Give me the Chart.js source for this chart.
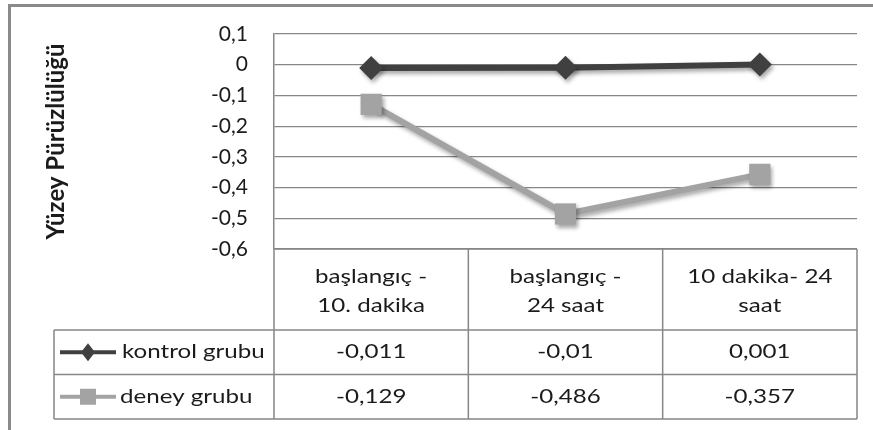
<!DOCTYPE html>
<html>
<head>
<meta charset="utf-8">
<script src="https://cdn.jsdelivr.net/npm/chart.js@4/dist/chart.umd.min.js"></script>
<style>
  html, body { margin: 0; padding: 0; background: #fff; }
  #wrap { width: 873px; height: 430px; }
</style>
</head>
<body>
<div id="wrap"><canvas id="lineChart" width="873" height="430"></canvas></div>
<script>
'use strict'

// Chart data
const categories = [['başlangıç -', '10. dakika'], ['başlangıç -', '24 saat'], ['10 dakika- 24', 'saat']];
const seriesNames = ['kontrol grubu', 'deney grubu'];
const kontrolGrubu = [-0.011, -0.01, 0.001];
const deneyGrubu = [-0.129, -0.486, -0.357];
const yMin = -0.6;
const yMax = 0.1;
const yStep = 0.1;

const darkColor = '#404040';
const greyColor = '#a3a3a3';
const lineGrey = '#878787';
const textColor = '#1b1b1b';
const fontFamily = 'Lato, "Open Sans", sans-serif';

// the original picture is a bit wider than tall, so table text is stretched
const textStretch = 1.27;

function formatNumber(v) {
    return String(v).replace('.', ',');
}

function stretchedText(ctx, text, x, y) {
    ctx.save();
    ctx.translate(x, y);
    ctx.scale(textStretch, 1);
    ctx.fillText(text, 0, 0);
    ctx.restore();
}

// Shadow under the lines and markers (like the original)
const shadowPlugin = {
    id: 'shadowPlugin',
    beforeDatasetsDraw(chart) {
        const ctx = chart.ctx;
        ctx.save();
        ctx.shadowColor = 'rgba(0, 0, 0, 0.35)';
        ctx.shadowBlur = 4;
        ctx.shadowOffsetX = 2;
        ctx.shadowOffsetY = 3;
    },
    afterDatasetsDraw(chart) {
        chart.ctx.restore();
    }
};

// Data table under the plot + outer frame
const dataTablePlugin = {
    id: 'dataTablePlugin',
    afterDraw(chart) {
        const ctx = chart.ctx;
        const x = chart.scales.x;
        const area = chart.chartArea;
        const n = categories.length;
        const colW = (area.right - area.left) / n;
        const legendLeft = 54;
        const headerBottom = 330;
        const rowH = 44.5;
        const tableBottom = headerBottom + rowH * 2;

        ctx.save();
        ctx.strokeStyle = lineGrey;
        ctx.lineWidth = 1.5;

        // vertical lines
        ctx.beginPath();
        for (let i = 0; i <= n; i++) {
            const px = area.left + i * colW;
            ctx.moveTo(px, area.bottom);
            ctx.lineTo(px, tableBottom);
        }
        ctx.moveTo(legendLeft, headerBottom);
        ctx.lineTo(legendLeft, tableBottom);
        // horizontal lines
        ctx.moveTo(area.left, area.bottom);
        ctx.lineTo(area.right, area.bottom);
        for (let r = 0; r <= 2; r++) {
            const py = headerBottom + r * rowH;
            ctx.moveTo(legendLeft, py);
            ctx.lineTo(area.right, py);
        }
        ctx.stroke();

        ctx.fillStyle = textColor;
        ctx.font = '19px ' + fontFamily;
        ctx.textAlign = 'center';
        ctx.textBaseline = 'middle';

        // category labels
        categories.forEach((lines, i) => {
            const cx = x.getPixelForValue(i);
            lines.forEach((line, j) => {
                stretchedText(ctx, line, cx, 277 + j * 29);
            });
        });

        // values
        const allSeries = [kontrolGrubu, deneyGrubu];
        allSeries.forEach((values, r) => {
            const cy = headerBottom + rowH * r + rowH / 2;
            values.forEach((v, i) => {
                stretchedText(ctx, formatNumber(v), x.getPixelForValue(i), cy);
            });
        });

        // legend keys
        ctx.textAlign = 'left';
        allSeries.forEach((values, r) => {
            const cy = headerBottom + rowH * r + rowH / 2;
            const ds = chart.data.datasets[r];
            ctx.strokeStyle = ds.borderColor;
            ctx.lineWidth = 4;
            ctx.beginPath();
            ctx.moveTo(60, cy);
            ctx.lineTo(116, cy);
            ctx.stroke();
            ctx.fillStyle = ds.pointBackgroundColor;
            ctx.beginPath();
            if (r === 0) {
                ctx.moveTo(88, cy - 9);
                ctx.lineTo(95, cy);
                ctx.lineTo(88, cy + 9);
                ctx.lineTo(81, cy);
            } else {
                ctx.rect(80, cy - 8, 16, 16);
            }
            ctx.fill();
            ctx.fillStyle = textColor;
            stretchedText(ctx, seriesNames[r], r === 0 ? 122 : 120, cy);
        });

        // outer frame
        ctx.strokeStyle = '#8a8a8a';
        ctx.lineWidth = 3;
        ctx.strokeRect(9.5, 5.5, 900, 500);
        ctx.restore();
    }
};

document.addEventListener('DOMContentLoaded', function () {
    const ctx = document.getElementById('lineChart').getContext('2d');
    const lineChart = new Chart(ctx, {
        type: 'line',
        data: {
            labels: categories,
            datasets: [
                {
                    label: seriesNames[0],
                    data: kontrolGrubu,
                    borderColor: darkColor,
                    backgroundColor: darkColor,
                    pointBackgroundColor: darkColor,
                    pointBorderColor: darkColor,
                    borderWidth: 6,
                    pointStyle: 'rectRot',
                    pointRadius: 12,
                    pointBorderWidth: 0,
                    tension: 0
                },
                {
                    label: seriesNames[1],
                    data: deneyGrubu,
                    borderColor: greyColor,
                    backgroundColor: greyColor,
                    pointBackgroundColor: greyColor,
                    pointBorderColor: greyColor,
                    borderWidth: 6,
                    pointStyle: 'rect',
                    pointRadius: 15,
                    pointBorderWidth: 0,
                    tension: 0
                }
            ]
        },
        options: {
            responsive: false,
            devicePixelRatio: 1,
            animation: false,
            layout: {
                padding: { left: 0, top: 34, right: 16, bottom: 181 }
            },
            plugins: {
                legend: { display: false },
                tooltip: { enabled: false }
            },
            scales: {
                x: {
                    display: false,
                    offset: true
                },
                y: {
                    min: yMin,
                    max: yMax,
                    afterFit(scale) {
                        scale.width = 274;
                        // tick padding is only meant horizontally here
                        scale.paddingTop = 0;
                        scale.paddingBottom = 0;
                    },
                    ticks: {
                        stepSize: yStep,
                        padding: 26,
                        color: textColor,
                        font: { family: fontFamily, size: 21 },
                        callback: function (value) {
                            const v = Math.round(value * 10) / 10;
                            return formatNumber(v === 0 ? 0 : v);
                        }
                    },
                    grid: {
                        color: lineGrey,
                        lineWidth: 1.2,
                        drawTicks: false
                    },
                    border: {
                        display: true,
                        color: lineGrey,
                        width: 1.5
                    },
                    title: {
                        display: true,
                        text: 'Yüzey Pürüzlülüğü',
                        color: textColor,
                        font: { family: fontFamily, size: 24, weight: 'bold' },
                        padding: { top: 42, bottom: 0 }
                    }
                }
            }
        },
        plugins: [shadowPlugin, dataTablePlugin]
    });
});
</script>
</body>
</html>
